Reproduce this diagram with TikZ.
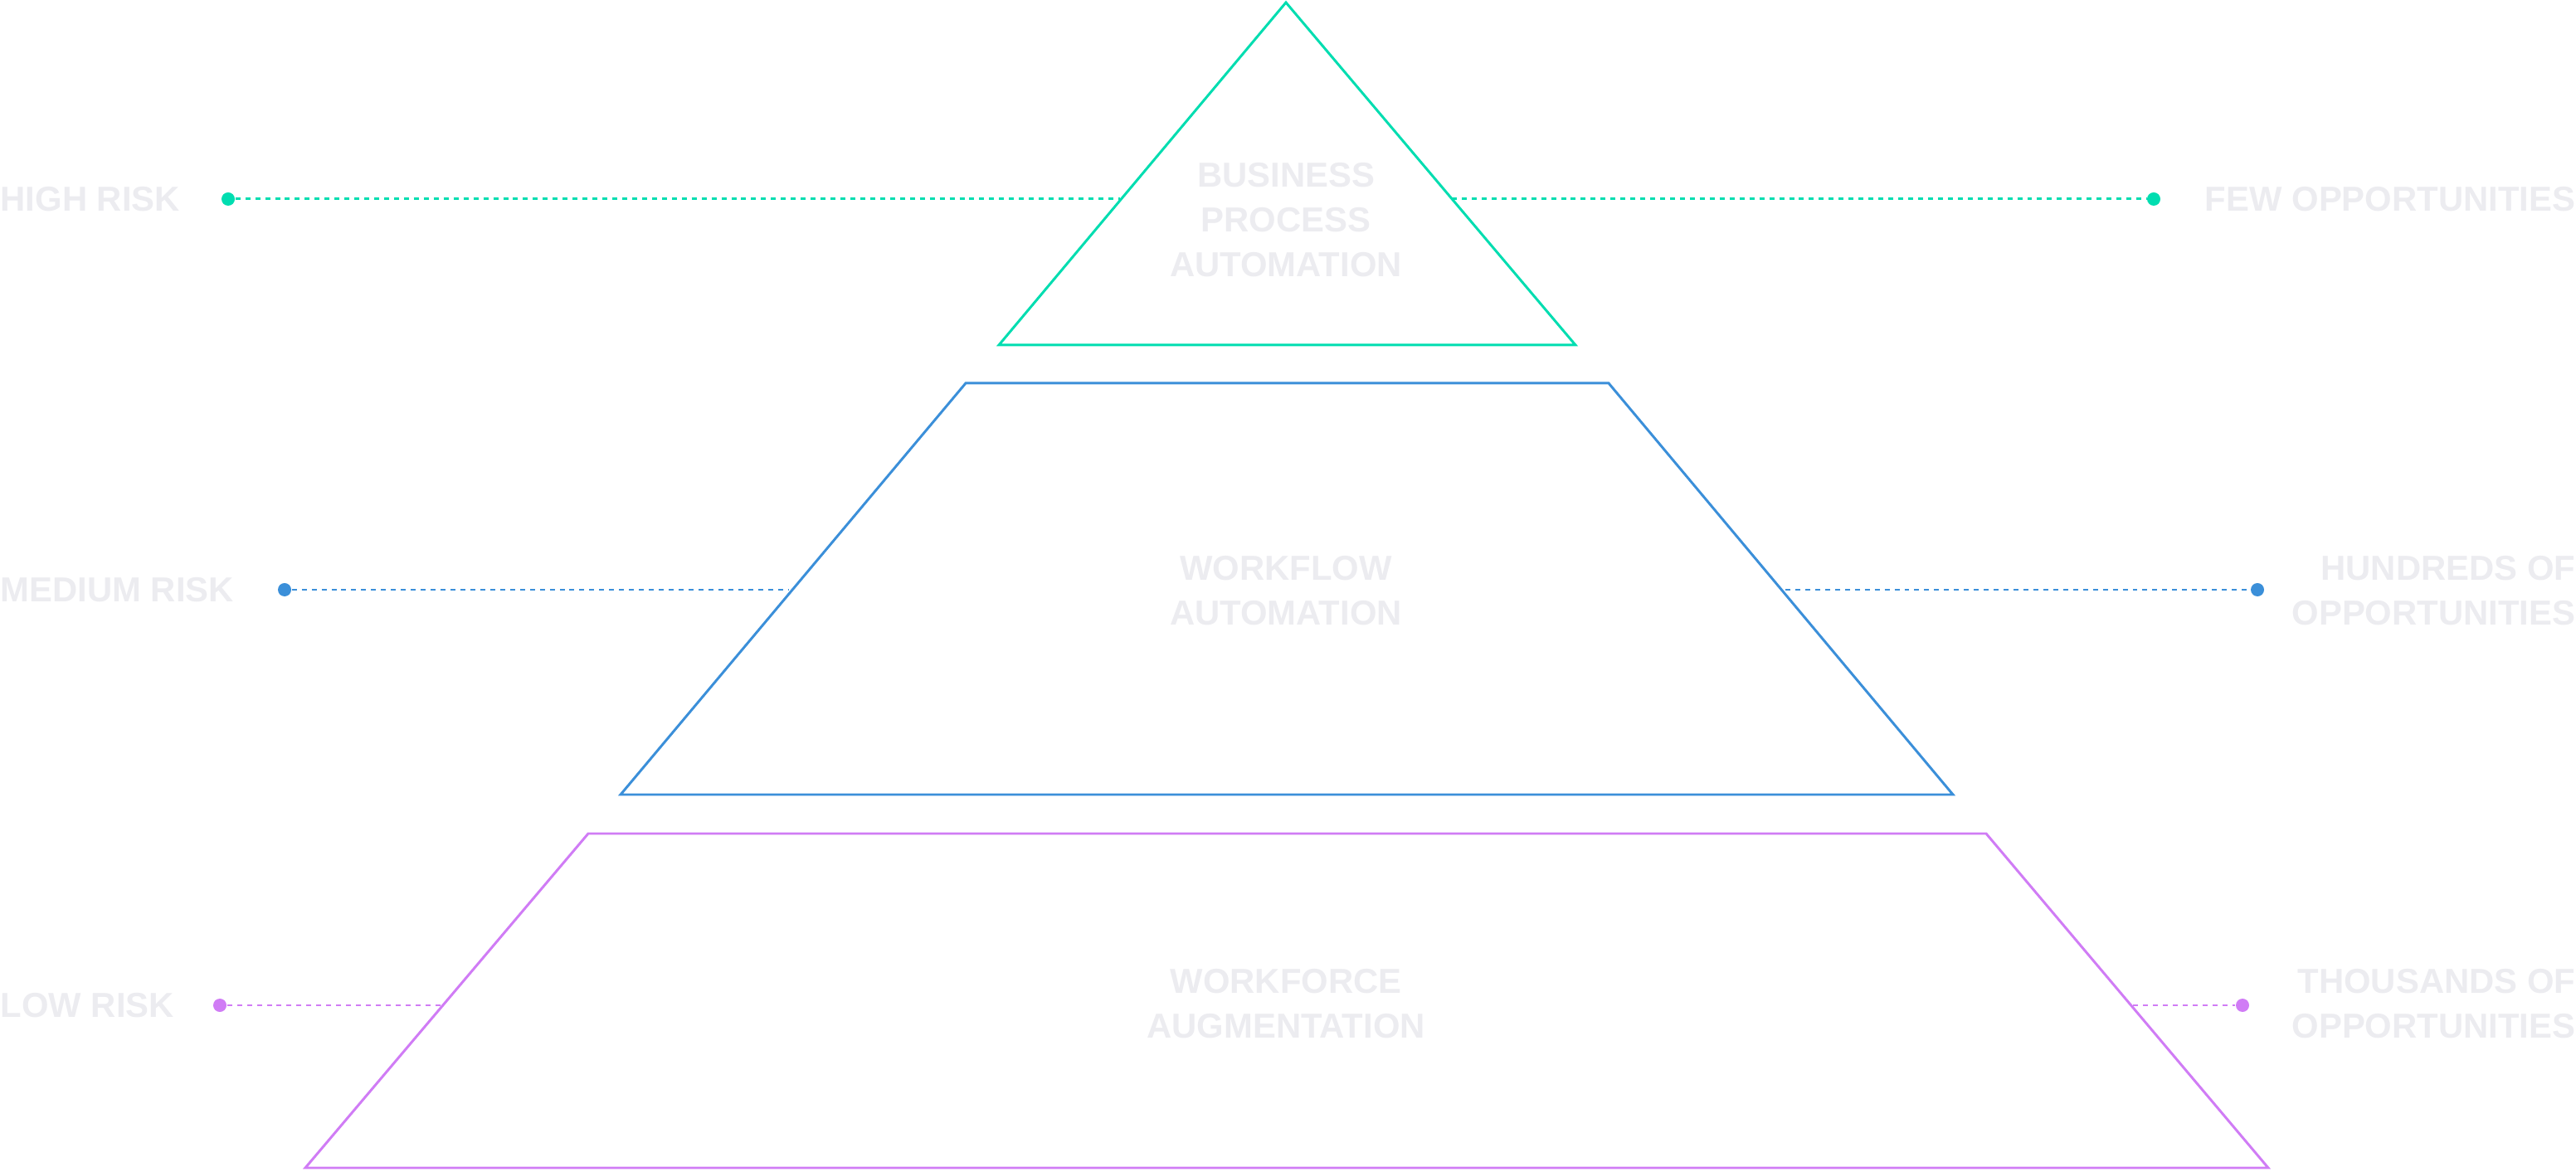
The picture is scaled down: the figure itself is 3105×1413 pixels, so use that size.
\documentclass[tikz,border=0pt]{standalone}
\usepackage{fontspec}
\setmainfont{Liberation Sans}
\begin{document}
\begin{tikzpicture}[x=0.01cm,y=-0.01cm,
  lbl/.style={inner sep=0pt,text=txt,font=\bfseries\fontsize{11.9}{15.4}\selectfont},
  ctr/.style={lbl,align=center},
  tier/.style={line width=0.85pt,line join=miter},
  conn/.style={line width=0.85pt,dash pattern=on 1.7pt off 1.7pt},
  dot/.style={circle,inner sep=0pt,minimum size=0.16cm}]
\definecolor{txt}{HTML}{ECECF0}
\definecolor{cg}{HTML}{00DDB0}
\definecolor{cb}{HTML}{3B8FD9}
\definecolor{cp}{HTML}{D07CF5}
\useasboundingbox (0,0) rectangle (3105,1413);
% shapes
\draw[tier,cg] (1550,3) -- (1899,416) -- (1204,416) -- cycle;
\draw[tier,cb] (1164,462) -- (1939,462) -- (2354,958) -- (748,958) -- cycle;
\draw[tier,cp] (709,1005) -- (2394,1005) -- (2734,1408) -- (368,1408) -- cycle;
% centre labels
\node[ctr] (t1) at (1550,265) {BUSINESS\\PROCESS\\AUTOMATION};
\node[ctr] (t2) at (1550,712) {WORKFLOW\\AUTOMATION};
\node[ctr] (t3) at (1550,1210) {WORKFORCE\\AUGMENTATION};
% side labels
\node[lbl,anchor=west] (l1) at (0,240) {HIGH RISK};
\node[lbl,anchor=west] (l2) at (0,711) {MEDIUM RISK};
\node[lbl,anchor=west] (l3) at (0,1212) {LOW RISK};
\node[lbl,anchor=east] (r1) at (3105,240) {FEW OPPORTUNITIES};
\node[lbl,anchor=east,align=right] (r2) at (3105,712) {HUNDREDS OF\\OPPORTUNITIES};
\node[lbl,anchor=east,align=right] (r3) at (3105,1210) {THOUSANDS OF\\OPPORTUNITIES};
% dots and edge points
\node[dot,fill=cg] (dl1) at (275,240) {};
\node[dot,fill=cg] (dr1) at (2596,240) {};
\node[dot,fill=cb] (dl2) at (343,711) {};
\node[dot,fill=cb] (dr2) at (2721,711) {};
\node[dot,fill=cp] (dl3) at (265,1212) {};
\node[dot,fill=cp] (dr3) at (2703,1212) {};
\coordinate (el1) at (1350,240);
\coordinate (er1) at (1750,240);
\coordinate (el2) at (951,711);
\coordinate (er2) at (2152,711);
\coordinate (el3) at (533,1212);
\coordinate (er3) at (2571,1212);
\draw[conn,cg] (dl1) -- (el1);
\draw[conn,cg] (er1) -- (dr1);
\draw[conn,cb] (dl2) -- (el2);
\draw[conn,cb] (er2) -- (dr2);
\draw[conn,cp] (dl3) -- (el3);
\draw[conn,cp] (er3) -- (dr3);
\end{tikzpicture}
\end{document}
